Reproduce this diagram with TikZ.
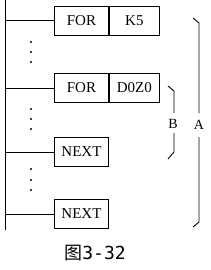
\documentclass[tikz,border=0pt]{standalone}
\usepackage{fontspec}
\setmainfont{Liberation Serif}
\newfontfamily\cjk{Noto Sans CJK SC}
\newfontfamily\monofnt{DejaVu Sans Mono}
\begin{document}
\begin{tikzpicture}[x=1pt,y=-1pt, line width=0.9pt,
 box/.style={draw, line width=0.9pt, minimum height=29pt, inner sep=0pt, anchor=north west, font=\fontsize{15}{15}\selectfont},
 dotm/.style={circle, fill, inner sep=0pt, minimum size=2.2pt},
 lbl/.style={inner sep=0pt, font=\fontsize{14}{14}\selectfont}]
\useasboundingbox (0,0) rectangle (210,270);
\coordinate (rt) at (5,0);
\coordinate (rb) at (5,230);
\draw (rt) -- (rb);
% boxes
\node[box, minimum width=54pt] (f1a) at (54,6) {FOR};
\node[box, minimum width=50pt] (f1b) at (f1a.north east) {K5};
\node[box, minimum width=54pt] (f2a) at (54,73) {FOR};
\node[box, minimum width=50pt] (f2b) at (f2a.north east) {D0Z0};
\node[box, minimum width=54pt] (n1) at (54,137) {NEXT};
\node[box, minimum width=54pt] (n2) at (54,199) {NEXT};
% connectors
\draw (f1a.west -| rt) -- (f1a.west);
\draw (f2a.west -| rt) -- (f2a.west);
\draw (n1.west -| rt) -- (n1.west);
\draw (n2.west -| rt) -- (n2.west);
% dots
\foreach \y in {42,52,62,109,119,129,169,180,190}
  \node[dotm] (d\y) at (31,\y) {};
% brace B
\draw (168,86) -- (174,91) -- (174,113);
\draw (174,133) -- (174,152) -- (168,159);
\node[lbl] (lb) at (173,124) {B};
% brace A
\draw (193,18) -- (199,23) -- (199,113);
\draw (199,137) -- (199,222) -- (193,227);
\node[lbl] (la) at (199,125) {A};
% caption
\node (cap) at (95,253) {\cjk\fontsize{18}{18}\selectfont 图\monofnt 3-32};
\end{tikzpicture}
\end{document}
